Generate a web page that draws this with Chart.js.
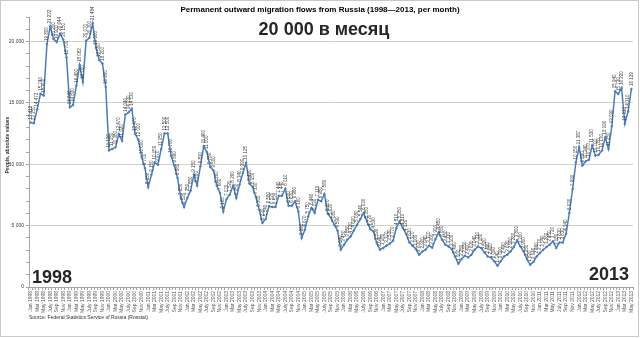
<!DOCTYPE html>
<html><head><meta charset="utf-8">
<script src="https://cdn.jsdelivr.net/npm/chart.js@4/dist/chart.umd.min.js"></script>
<style>html,body{margin:0;padding:0;background:#fff}#wrap{position:relative;width:640px;height:338px}</style>
</head><body><div id="wrap"><canvas id="c" width="640" height="338"></canvas></div>
<script>
const categories = [
"Jan 1998","Feb 1998","Mar 1998","Apr 1998","May 1998","Jun 1998","July 1998","Aug 1998","Sep 1998","Oct 1998","Nov 1998","Dec 1998",
"Jan 1999","Feb 1999","Mar 1999","Apr 1999","May 1999","Jun 1999","July 1999","Aug 1999","Sep 1999","Oct 1999","Nov 1999","Dec 1999",
"Jan 2000","Feb 2000","Mar 2000","Apr 2000","May 2000","Jun 2000","July 2000","Aug 2000","Sep 2000","Oct 2000","Nov 2000","Dec 2000",
"Jan 2001","Feb 2001","Mar 2001","Apr 2001","May 2001","Jun 2001","July 2001","Aug 2001","Sep 2001","Oct 2001","Nov 2001","Dec 2001",
"Jan 2002","Feb 2002","Mar 2002","Apr 2002","May 2002","Jun 2002","July 2002","Aug 2002","Sep 2002","Oct 2002","Nov 2002","Dec 2002",
"Jan 2003","Feb 2003","Mar 2003","Apr 2003","May 2003","Jun 2003","July 2003","Aug 2003","Sep 2003","Oct 2003","Nov 2003","Dec 2003",
"Jan 2004","Feb 2004","Mar 2004","Apr 2004","May 2004","Jun 2004","July 2004","Aug 2004","Sep 2004","Oct 2004","Nov 2004","Dec 2004",
"Jan 2005","Feb 2005","Mar 2005","Apr 2005","May 2005","Jun 2005","July 2005","Aug 2005","Sep 2005","Oct 2005","Nov 2005","Dec 2005",
"Jan 2006","Feb 2006","Mar 2006","Apr 2006","May 2006","Jun 2006","July 2006","Aug 2006","Sep 2006","Oct 2006","Nov 2006","Dec 2006",
"Jan 2007","Feb 2007","Mar 2007","Apr 2007","May 2007","Jun 2007","July 2007","Aug 2007","Sep 2007","Oct 2007","Nov 2007","Dec 2007",
"Jan 2008","Feb 2008","Mar 2008","Apr 2008","May 2008","Jun 2008","July 2008","Aug 2008","Sep 2008","Oct 2008","Nov 2008","Dec 2008",
"Jan 2009","Feb 2009","Mar 2009","Apr 2009","May 2009","Jun 2009","July 2009","Aug 2009","Sep 2009","Oct 2009","Nov 2009","Dec 2009",
"Jan 2010","Feb 2010","Mar 2010","Apr 2010","May 2010","Jun 2010","July 2010","Aug 2010","Sep 2010","Oct 2010","Nov 2010","Dec 2010",
"Jan 2011","Feb 2011","Mar 2011","Apr 2011","May 2011","Jun 2011","July 2011","Aug 2011","Sep 2011","Oct 2011","Nov 2011","Dec 2011",
"Jan 2012","Feb 2012","Mar 2012","Apr 2012","May 2012","Jun 2012","July 2012","Aug 2012","Sep 2012","Oct 2012","Nov 2012","Dec 2012",
"Jan 2013","Feb 2013","Mar 2013","Apr 2013","May 2013"
];
const migrants = [
13412,13350,14472,15740,15600,19800,21232,20200,19970,20644,20150,18700,
14640,14830,16400,18082,16700,20070,20300,21484,19500,18500,18200,16300,
11130,11250,11380,12470,11920,14040,14230,14530,12470,12000,10600,9700,
8150,9150,10150,9970,11250,12500,12500,10700,9890,8880,7250,6520,
7250,7850,9150,8280,9830,11460,11000,9780,9500,8260,7660,6160,
7170,7520,8260,7250,8340,9290,10125,8420,8150,7330,6300,5220,
5540,6580,6520,6520,7440,7440,8010,6630,6630,6980,6160,3990,
4670,5750,6440,6030,7110,6980,7580,5970,5620,5080,4590,3040,
3450,3850,4120,4600,5080,5540,6030,5350,4730,4530,3590,3040,
3180,3370,3530,3770,4810,5350,4810,4320,3630,3370,3100,2630,
2900,3040,3370,3200,3900,4450,3850,3450,3310,3100,2490,1900,
2280,2550,2410,2630,3040,3310,3180,2820,2490,2410,2090,1740,
2090,2490,2630,2900,3260,3800,3300,2900,2280,1820,2040,2490,
2770,3040,3260,3450,3720,3180,3630,3630,4340,6030,7990,10150,
11387,9890,10240,10370,11520,10700,10780,11130,12190,11250,13090,15940,
15730,16220,13310,14310,16129
];
const yMajorStep = 5000;
const yMinorStep = 1000;
const yMax = 22000;
const titleText = "Permanent outward migration flows from Russia (1998\u20142013, per month)";
const subtitleText = "20 000 \u0432 \u043c\u0435\u0441\u044f\u0446";
const yAxisTitle = "People, absolute values";
const sourceText = "Source: Federal Statistics Service of Russia (Rosstat)";
const startYear = "1998";
const endYear = "2013";

function fmt(v){ return String(Math.round(v)).replace(/\B(?=(\d{3})+(?!\d))/g, " "); }

const decor = {
  id: 'decor',
  afterDatasetsDraw(chart){
    const ctx = chart.ctx;
    const meta = chart.getDatasetMeta(0);
    ctx.save();
    ctx.fillStyle = '#404040';
    ctx.font = '4.5px "Liberation Sans", Arial, sans-serif';
    ctx.textAlign = 'left';
    ctx.textBaseline = 'middle';
    meta.data.forEach((pt, i) => {
      ctx.save();
      ctx.translate(pt.x, pt.y - 3);
      ctx.rotate(-Math.PI/2);
      ctx.fillText(fmt(migrants[i]), 0, 0);
      ctx.restore();
    });
    ctx.restore();
  },
  afterDraw(chart){
    const ctx = chart.ctx;
    ctx.save();
    ctx.strokeStyle = '#c8c8c8';
    ctx.lineWidth = 1;
    ctx.strokeRect(0.5, 0.5, 638, 336);
    ctx.fillStyle = '#000';
    ctx.textAlign = 'center';
    ctx.textBaseline = 'middle';
    ctx.font = 'bold 8px "Liberation Sans", Arial, sans-serif';
    ctx.fillText(titleText, 320, 10);
    ctx.fillStyle = '#262626';
    ctx.font = 'bold 18px "Liberation Sans", Arial, sans-serif';
    ctx.fillText(subtitleText, 324, 30);
    ctx.textAlign = 'left';
    ctx.textBaseline = 'alphabetic';
    ctx.fillText(startYear, 32, 283);
    ctx.textAlign = 'right';
    ctx.fillText(endYear, 629, 280);
    ctx.fillStyle = '#333';
    ctx.textAlign = 'left';
    ctx.textBaseline = 'middle';
    ctx.font = '5px "Liberation Sans", Arial, sans-serif';
    ctx.fillText(sourceText, 29, 318);
    ctx.save();
    ctx.translate(8, 145);
    ctx.rotate(-Math.PI/2);
    ctx.textAlign = 'center';
    ctx.font = 'bold 5px "Liberation Sans", Arial, sans-serif';
    ctx.fillText(yAxisTitle, 0, 0);
    ctx.restore();
    ctx.restore();
  }
};

new Chart(document.getElementById('c'), {
  type: 'line',
  data: {
    labels: categories,
    datasets: [{
      data: migrants,
      borderColor: '#4a7ebb',
      backgroundColor: '#4a7ebb',
      borderWidth: 1.5,
      pointStyle: 'rectRot',
      pointRadius: 1.5,
      pointBorderWidth: 0,
      tension: 0
    }]
  },
  options: {
    responsive: false,
    devicePixelRatio: 1,
    animation: false,
    layout: { padding: { left: 0, right: 7, top: 17, bottom: 0 } },
    plugins: { legend: { display: false }, tooltip: { enabled: false } },
    scales: {
      x: {
        type: 'category',
        offset: true,
        grid: { offset: true, color: 'transparent', tickColor: '#a6a6a6', tickLength: 3, drawOnChartArea: false },
        border: { color: '#a6a6a6' },
        ticks: {
          autoSkip: false, maxRotation: 90, minRotation: 90, padding: 1,
          color: '#595959', font: { size: 5, family: '"Liberation Sans", Arial, sans-serif' },
          callback: (v, i) => (i % 2 === 0 ? categories[i] : '')
        },
        afterFit: s => { s.height = 51; }
      },
      y: {
        min: 0, max: yMax,
        grid: {
          color: c => (c.tick && c.tick.value % yMajorStep === 0 && c.tick.value > 0) ? '#d0d0d0' : 'transparent',
          tickColor: '#a6a6a6', tickLength: 3
        },
        border: { color: '#a6a6a6' },
        ticks: {
          stepSize: yMinorStep, autoSkip: false, padding: 2,
          color: '#404040', font: { size: 5, family: '"Liberation Sans", Arial, sans-serif' },
          callback: v => (v % yMajorStep === 0 ? fmt(v) : '')
        },
        afterFit: s => { s.width = 29; }
      }
    }
  },
  plugins: [decor]
});
</script>
</body></html>
